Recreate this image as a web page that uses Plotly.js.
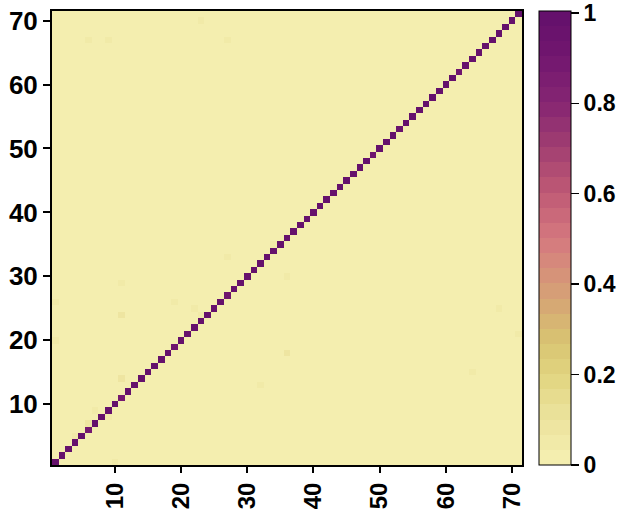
<!DOCTYPE html>
<html><head><meta charset="utf-8">
<script src="https://cdn.plot.ly/plotly-3.0.1.min.js"></script>
<style>html,body{margin:0;padding:0;background:#fff}#chart{width:623px;height:509px}</style>
</head><body><div id="chart"></div>
<script>
// Indices 1..71 on both axes
var axisIndex = [];
for (var k = 1; k <= 71; k++) axisIndex.push(k);

// Diagonal values (index 1..71)
var diagValues = [1,1,1,1,1,0.9,1,1,1,1,0.9,1,1,1,1,1,1,1,0.93,1,
                  1,1,1,1,1,1,0.92,1,1,1,1,1,1,1,1,1,1,1,1,1,
                  1,1,1,1,1,1,1,1,0.93,1,1,1,0.95,1,1,1,1,1,1,1,
                  1,0.92,1,1,1,1,1,1,1,1,1];

// Off-diagonal faint cells: column (x), row (y), value
var offCols = [1, 19, 11, 1, 22, 11, 7, 9, 6, 4, 10, 68, 71, 36, 64, 32, 23, 27, 6, 9, 27, 11, 34, 36, 23];
var offRows = [26, 26, 24, 20, 25, 14, 9, 8, 7, 5, 1, 25, 21, 18, 15, 13, 70, 67, 67, 67, 33, 29, 35, 30, 24];
var offVals = [0.04,0.04,0.07,0.04,0.05,0.08,0.05,0.05,0.07,0.05,0.05,0.05,0.04,0.1,0.06,0.05,0.05,0.05,0.06,0.06,0.05,0.05,0.05,0.05,0.05];

var tickVals = [10,20,30,40,50,60,70];
var cbTickVals = [0,0.2,0.4,0.6,0.8,1];
var cbTickText = ["0","0.2","0.4","0.6","0.8","1"];

var z = [];
for (var r = 0; r < 71; r++) { var row = []; for (var c = 0; c < 71; c++) row.push(0); z.push(row); }
for (var i = 0; i < 71; i++) z[i][i] = diagValues[i];
for (var j = 0; j < offCols.length; j++) z[offRows[j]-1][offCols[j]-1] = offVals[j];

// stepped colorscale
var anchors = [[0,'#f5f0b2'],[0.1,'#ece39e'],[0.2,'#e1d47f'],[0.27,'#d9c572'],[0.33,'#d6b073'],[0.4,'#d69878'],[0.5,'#d5787f'],[0.6,'#bf5a75'],[0.7,'#a13e71'],[0.8,'#852572'],[0.9,'#72166f'],[1,'#62106b']];
function hex(h){return [parseInt(h.substr(1,2),16),parseInt(h.substr(3,2),16),parseInt(h.substr(5,2),16)];}
function interp(t){
  for (var a=0;a<anchors.length-1;a++){
    if (t<=anchors[a+1][0]){
      var f=(t-anchors[a][0])/(anchors[a+1][0]-anchors[a][0]);
      var c1=hex(anchors[a][1]), c2=hex(anchors[a+1][1]);
      return 'rgb('+Math.round(c1[0]+(c2[0]-c1[0])*f)+','+Math.round(c1[1]+(c2[1]-c1[1])*f)+','+Math.round(c1[2]+(c2[2]-c1[2])*f)+')';
    }
  }
  return anchors[anchors.length-1][1];
}
var nb = 30, cs = [];
for (var b = 0; b < nb; b++) { var col = interp((b+0.5)/nb); cs.push([b/nb, col]); cs.push([(b+1)/nb, col]); }

var font = {family: 'Liberation Sans, Arial, sans-serif', size: 26, color: '#000', weight: 'bold'};
var xfont = {family: 'Liberation Sans, Arial, sans-serif', size: 24, color: '#000', weight: 'bold'};
var cbfont = {family: 'Liberation Sans, Arial, sans-serif', size: 23, color: '#000', weight: 'bold'};
var paperW = 623 - 52;

var trace = {
  type: 'heatmap', x: axisIndex, y: axisIndex, z: z,
  zmin: 0, zmax: 1.004, colorscale: cs,
  colorbar: {
    x: (539 - 52) / paperW, xanchor: 'left', xpad: 0, y: 0, yanchor: 'bottom', ypad: 0, len: 1,
    thickness: 32, outlinewidth: 1, outlinecolor: '#000',
    tickvals: cbTickVals, ticktext: cbTickText, ticks: 'outside', ticklen: 8, tickwidth: 1.5, tickcolor: '#000',
    ticklabeloverflow: 'allow',
    tickfont: cbfont
  },
  hoverinfo: 'skip'
};

var layout = {
  width: 623, height: 509,
  margin: {l: 52, r: 0, t: 11, b: 44},
  paper_bgcolor: '#fff', plot_bgcolor: '#fff',
  font: font,
  xaxis: {domain: [0, 470 / paperW], range: [0.5, 71.5], tickvals: tickVals, tickangle: -90, ticks: 'outside', ticklen: 6, tickwidth: 2, tickcolor: '#000',
          showline: true, linecolor: '#000', linewidth: 2, mirror: true, showgrid: false, zeroline: false, tickfont: xfont},
  yaxis: {range: [0.5, 71.5], tickvals: tickVals, ticks: 'outside', ticklen: 7, tickwidth: 2, tickcolor: '#000',
          showline: true, linecolor: '#000', linewidth: 2, mirror: true, showgrid: false, zeroline: false, tickfont: font}
};

Plotly.newPlot('chart', [trace], layout, {displayModeBar: false, staticPlot: true});
</script></body></html>
